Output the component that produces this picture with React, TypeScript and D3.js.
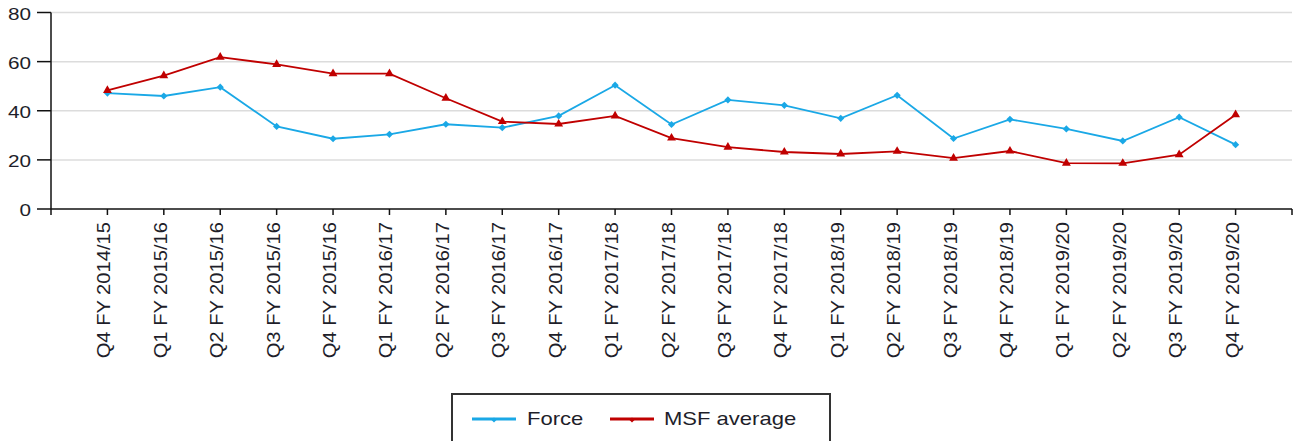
import React from "react";
import * as d3 from "d3";

const categories = [
  "Q4 FY 2014/15", "Q1 FY 2015/16", "Q2 FY 2015/16", "Q3 FY 2015/16", "Q4 FY 2015/16",
  "Q1 FY 2016/17", "Q2 FY 2016/17", "Q3 FY 2016/17", "Q4 FY 2016/17",
  "Q1 FY 2017/18", "Q2 FY 2017/18", "Q3 FY 2017/18", "Q4 FY 2017/18",
  "Q1 FY 2018/19", "Q2 FY 2018/19", "Q3 FY 2018/19", "Q4 FY 2018/19",
  "Q1 FY 2019/20", "Q2 FY 2019/20", "Q3 FY 2019/20", "Q4 FY 2019/20",
];
const forceValues = [47.2, 46, 49.6, 33.6, 28.6, 30.4, 34.5, 33.1, 37.9, 50.4, 34.4, 44.4, 42.2, 36.9, 46.3, 28.7, 36.5, 32.6, 27.7, 37.4, 26.2];
const msfValues = [48.3, 54.3, 61.8, 58.9, 55.1, 55.1, 45.1, 35.6, 34.6, 37.9, 28.9, 25.2, 23.2, 22.4, 23.5, 20.7, 23.6, 18.7, 18.6, 22.1, 38.4];
const yTicks = [0, 20, 40, 60, 80];
const seriesNames = ["Force", "MSF average"];

const BLUE = "#1aa8e6";
const RED = "#c00000";
const TEXT = "#1e1e2a";

export default function App() {
  const W = 1296, H = 441;
  const x = d3.scaleLinear().domain([0, categories.length + 1]).range([51, 1292]);
  const y = d3.scaleLinear().domain([0, 80]).range([209, 12.5]);
  const line = d3.line<number>().x((_, i) => x(i + 1)).y((d) => y(d));
  const tickIdx = d3.range(0, categories.length + 2);
  const tri = d3.symbol().type(d3.symbolTriangle).size(34)();
  const dia = (s: number) => `M0,${-s}L${s},0L0,${s}L${-s},0Z`;

  return (
    <svg width={W} height={H} style={{ position: "absolute", left: 0, top: 0, background: "#fff" }}
      fontFamily="'Liberation Sans', Arial, sans-serif">
      {/* gridlines */}
      {yTicks.filter((t) => t > 0).map((t) => (
        <line key={"g" + t} x1={51} x2={1292} y1={y(t)} y2={y(t)} stroke="#dcdcdc" strokeWidth={1.5} />
      ))}
      {/* y axis */}
      <line x1={51} x2={51} y1={y(80)} y2={y(0)} stroke="#111" strokeWidth={1.5} />
      {yTicks.map((t) => (
        <g key={"y" + t}>
          <line x1={37} x2={51} y1={y(t)} y2={y(t)} stroke="#111" strokeWidth={1.5} />
          <text transform={`translate(31,${y(t) + 7}) scale(1.22,1)`} textAnchor="end" fontSize={17} fill={TEXT}>{t}</text>
        </g>
      ))}
      {/* x axis */}
      <line x1={51} x2={1292} y1={y(0)} y2={y(0)} stroke="#111" strokeWidth={1.5} />
      {tickIdx.map((i) => (
        <line key={"xt" + i} x1={x(i)} x2={x(i)} y1={y(0)} y2={y(0) + 6} stroke="#111" strokeWidth={1.5} />
      ))}
      {categories.map((c, i) => (
        <text key={"xl" + i} transform={`translate(${x(i + 1) + 3},222) rotate(-90) scale(1.12,1)`}
          textAnchor="end" fontSize={18} fill={TEXT}>{c}</text>
      ))}
      {/* series */}
      <path d={line(forceValues) || ""} fill="none" stroke={BLUE} strokeWidth={1.8} />
      <path d={line(msfValues) || ""} fill="none" stroke={RED} strokeWidth={1.8} />
      {forceValues.map((v, i) => (
        <path key={"fm" + i} d={dia(3.6)} transform={`translate(${x(i + 1)},${y(v)})`} fill={BLUE} />
      ))}
      {msfValues.map((v, i) => (
        <path key={"mm" + i} d={tri || ""} transform={`translate(${x(i + 1)},${y(v)})`} fill={RED} />
      ))}
      {/* legend */}
      <rect x={452} y={394} width={378} height={60} fill="#fff" stroke="#333" strokeWidth={2} />
      <line x1={472} x2={516} y1={419} y2={419} stroke={BLUE} strokeWidth={3} />
      <path d={dia(2.5)} transform="translate(494,420)" fill={BLUE} />
      <text transform="translate(527,425) scale(1.16,1)" fontSize={19} fill={TEXT}>{seriesNames[0]}</text>
      <line x1={610} x2={654} y1={419} y2={419} stroke={RED} strokeWidth={3} />
      <path d={dia(2.5)} transform="translate(632,420)" fill={RED} />
      <text transform="translate(664,425) scale(1.16,1)" fontSize={19} fill={TEXT}>{seriesNames[1]}</text>
    </svg>
  );
}
